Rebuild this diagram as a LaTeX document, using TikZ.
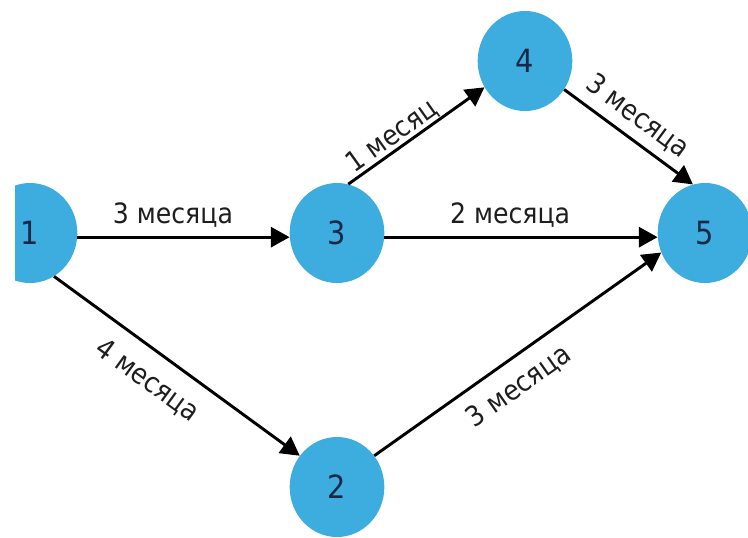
\documentclass[tikz,border=0pt]{standalone}
\usepackage{fontspec}
\setmainfont{DejaVu Sans Condensed}
\usetikzlibrary{arrows.meta,shapes.geometric}

\definecolor{nodeblue}{RGB}{61,172,222}
\definecolor{numnavy}{RGB}{25,40,70}
\definecolor{labgray}{RGB}{30,30,30}

\tikzset{
    event/.style={ellipse, fill=nodeblue, minimum width=71pt, minimum height=75pt,
        inner sep=0pt, text=numnavy, font=\fontsize{24}{24}\selectfont},
    work/.style={line width=2.2pt, -{Triangle[length=14pt,width=15pt]}},
    dur/.style={sloped, inner sep=0pt, text=labgray, font=\fontsize{21}{21}\selectfont}
}

\begin{document}
\begin{tikzpicture}[x=0.75pt,y=-0.75pt]

        \useasboundingbox (0,0) rectangle (748,537);
        \clip (15,0) rectangle (748,537);

        % events:
        \node(N1) [event] at (30,233) {1};
        \node(N3) [event] at (337,233) {3};
        \node(N4) [event] at (525,61) {4};
        \node(N5) [event] at (705,233) {5};
        \node(N2) [event] at (337,487) {2};

        % works:
        \draw[work] (N1.-5) -- (N3.185) node[dur, pos=0.45, above=6pt] {3 месяца};
        \draw[work] (N3.-5) -- (N5.185) node[dur, pos=0.46, above=6pt] {2 месяца};
        \draw[work] (N1.-61) -- (N2.140) node[dur, pos=0.45, below=12pt] {4 месяца};
        \draw[work] (N2.40) -- (N5.204) node[dur, pos=0.45, below=10pt] {3 месяца};
        \draw[work] (N3.77) -- (N4.213) node[dur, pos=0.38, above=0pt] {1 месяц};
        \draw[work] (N4.-36) -- (N5.104) node[dur, pos=0.47, above=6pt] {3 месяца};

    \end{tikzpicture}
\end{document}
